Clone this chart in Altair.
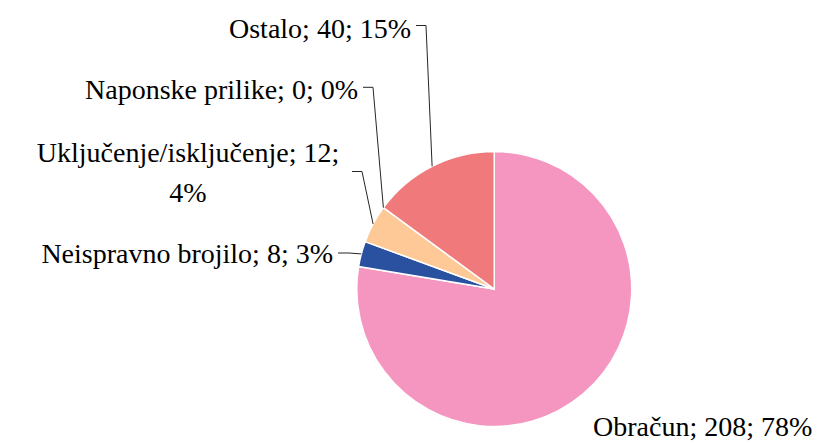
import math
import altair as alt
import pandas as pd

# ---- data ----
categories = ["Obračun", "Neispravno brojilo", "Uključenje/isključenje", "Naponske prilike", "Ostalo"]
values = [208, 8, 12, 0, 40]
colors = ["#F496C0", "#2A50A0", "#FEC996", "#F2A0A0", "#F07A7B"]

# ---- layout (page pixel coordinates) ----
CX, CY, R = 494.25, 289.0, 137.5
label_x = [593, 333, 188, 358, 411]
label_y = [436, 263, 162, 99, 38]
label_align = ["left", "right", "center", "right", "right"]
label_break = [False, False, True, False, False]
leader_start = [None, (338, 253), (352, 171.5), (363, 87.3), (416, 25.5)]
leader_elbow = [None, (349, 253), (362, 171.5), (373, 87.3), (426, 25.5)]

W, H = 823, 435
xs = alt.Scale(domain=[8, 8 + W], range=[0, W], nice=False, zero=False)
ys = alt.Scale(domain=[8, 8 + H], range=[0, H], nice=False, zero=False)

total = sum(values)
pie_rows, label_rows, seg_rows = [], [], []
cum = 0
for i, (c, v) in enumerate(zip(categories, values)):
    mid = (cum + v / 2) / total * 2 * math.pi
    cum += v
    pct = round(100 * v / total)
    txt = f"{c}; {v};" + ("\n" if label_break[i] else " ") + f"{pct}%"
    pie_rows.append({"category": c, "value": v, "idx": i})
    label_rows.append({"label": txt, "lx": label_x[i], "ly": label_y[i], "align": label_align[i]})
    if leader_start[i] is not None:
        ex = CX + R * math.sin(mid)
        ey = CY - R * math.cos(mid)
        s, e = leader_start[i], leader_elbow[i]
        seg_rows.append({"sx": s[0], "sy": s[1], "ex": e[0], "ey": e[1]})
        seg_rows.append({"sx": e[0], "sy": e[1], "ex": ex, "ey": ey})

pie_df = pd.DataFrame(pie_rows)
lab_df = pd.DataFrame(label_rows)
seg_df = pd.DataFrame(seg_rows)

pie = alt.Chart(pie_df).mark_arc(radius=R, stroke="white", strokeWidth=1.5).encode(
    theta=alt.Theta("value:Q", stack=True),
    color=alt.Color("category:N", scale=alt.Scale(domain=categories, range=colors), legend=None),
    order=alt.Order("idx:Q"),
    x=alt.value(CX - 8),
    y=alt.value(CY - 8),
)

rules = alt.Chart(seg_df).mark_rule(color="#262626", strokeWidth=1).encode(
    x=alt.X("sx:Q", scale=xs, axis=None),
    y=alt.Y("sy:Q", scale=ys, axis=None),
    x2="ex:Q",
    y2="ey:Q",
)

text_layers = []
for al in ["left", "right", "center"]:
    sub = lab_df[lab_df["align"] == al].reset_index(drop=True)
    text_layers.append(
        alt.Chart(sub).mark_text(
            font="Liberation Serif", fontSize=28,
            lineBreak="\n", lineHeight=40, baseline="alphabetic", align=al,
        ).encode(
            x=alt.X("lx:Q", scale=xs, axis=None),
            y=alt.Y("ly:Q", scale=ys, axis=None),
            text="label:N",
        )
    )

chart = alt.layer(pie, rules, *text_layers).properties(
    width=W, height=H, padding=0, view=alt.ViewBackground(stroke=None)
)

chart.save("out.html", embed_options={"renderer": "svg", "actions": False})
